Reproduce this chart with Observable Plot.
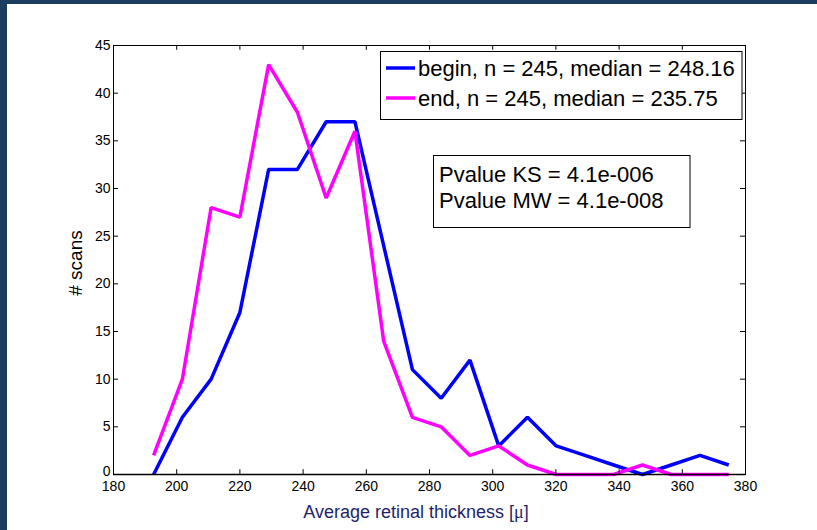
<!DOCTYPE html>
<html><head><meta charset="utf-8">
<script src="https://cdn.jsdelivr.net/npm/d3@7"></script>
<script src="https://cdn.jsdelivr.net/npm/@observablehq/plot@0.6"></script>
<style>
html,body{margin:0;padding:0;background:#fff;}
#wrap{position:relative;width:817px;height:530px;overflow:hidden;}
.band-top{position:absolute;left:0;top:0;width:817px;height:4px;background:#1b3b5f;}
.band-left{position:absolute;left:0;top:0;width:7px;height:530px;background:#1b3b5f;}
</style></head><body>
<div id="wrap"></div>
<script>
// Data
const binCenters = [192.7, 201.8, 210.9, 220.0, 229.1, 238.2, 247.3, 256.4, 265.5, 274.6, 283.7, 292.8, 301.9, 311.0, 320.1, 329.2, 338.3, 347.4, 356.5, 365.6, 374.7];
const beginCounts = [0, 6, 10, 17, 32, 32, 37, 37, 24, 11, 8, 12, 3, 6, 3, 2, 1, 0, 1, 2, 1];
const endCounts   = [2, 10, 28, 27, 43, 38, 29, 36, 14, 6, 5, 2, 3, 1, 0, 0, 0, 1, 0, 0, 0];
const xTicks = [180, 200, 220, 240, 260, 280, 300, 320, 340, 360, 380];
const yTicks = [0, 5, 10, 15, 20, 25, 30, 35, 40, 45];
const seriesNames = ["begin", "end"];
const seriesLabels = ["begin, n = 245, median = 248.16", "end, n = 245, median = 235.75"];
const seriesColors = ["#0000ff", "#ff00ff"];
const statLines = ["Pvalue KS = 4.1e-006", "Pvalue MW = 4.1e-008"];
const xLabelParts = ["Average retinal thickness [", "\u03bc", "]"];
const yLabel = "# scans";

const rows = [];
binCenters.forEach((x, i) => {
  rows.push({x, n: beginCounts[i], s: seriesNames[0]});
  rows.push({x, n: endCounts[i], s: seriesNames[1]});
});

const FONT = "'Liberation Sans', Arial, Helvetica, sans-serif";

const plot = Plot.plot({
  width: 817, height: 530,
  marginLeft: 113, marginRight: 72, marginTop: 45, marginBottom: 56,
  style: {background: "#fff", fontFamily: FONT, fontSize: "14px", color: "#000"},
  x: {domain: [180, 380]},
  y: {domain: [0, 45]},
  color: {domain: seriesNames, range: seriesColors},
  marks: [
    Plot.line(rows, {x: "x", y: "n", stroke: "s", z: "s", strokeWidth: 3.5, strokeLinejoin: "miter", strokeLinecap: "butt"}),
    Plot.frame({stroke: "#000", strokeWidth: 1}),
    Plot.ruleY([0], {stroke: "#000", strokeWidth: 1.6}),
    Plot.ruleX(xTicks, {y1: 0, y2: 0.5, stroke: "#000"}),
    Plot.ruleX(xTicks, {y1: 45, y2: 44.5, stroke: "#000"}),
    Plot.ruleY(yTicks, {x1: 180, x2: 181.6, stroke: "#000"}),
    Plot.ruleY(yTicks, {x1: 380, x2: 378.4, stroke: "#000"}),
    Plot.axisX({ticks: xTicks, tickSize: 0, tickPadding: 7, label: null, tickFormat: d => String(d)}),
    Plot.axisY({ticks: yTicks.filter(d => d !== 0), tickSize: 0, tickPadding: 3, label: null, tickFormat: d => String(d)}),
    Plot.axisY({ticks: yTicks.filter(d => d === 0), tickSize: 0, tickPadding: 3, dy: -3, label: null, tickFormat: d => String(d)})
  ]
});

const svg = d3.select(plot);

// Legend
const lg = svg.append("g").attr("font-family", FONT).attr("font-size", "22px").attr("text-anchor", "start");
lg.append("rect").attr("x", 380.5).attr("y", 51.5).attr("width", 361.5).attr("height", 68)
  .attr("fill", "#fff").attr("stroke", "#000").attr("stroke-width", 1);
seriesLabels.forEach((t, i) => {
  const cy = 68 + i * 30;
  lg.append("line").attr("x1", 386).attr("x2", 415).attr("y1", cy).attr("y2", cy)
    .attr("stroke", seriesColors[i]).attr("stroke-width", 3.5);
  lg.append("text").attr("x", 418).attr("y", cy + 8).attr("text-anchor", "start").attr("fill", "#000").text(t);
});

// Stats box
const sg = svg.append("g").attr("font-family", FONT).attr("font-size", "22px").attr("text-anchor", "start");
sg.append("rect").attr("x", 433.5).attr("y", 155.5).attr("width", 256.5).attr("height", 72)
  .attr("fill", "#fff").attr("stroke", "#000").attr("stroke-width", 1);
statLines.forEach((t, i) => {
  sg.append("text").attr("x", 439).attr("y", 182 + i * 26).attr("text-anchor", "start").attr("fill", "#000").text(t);
});

// X label
const xl = svg.append("text").attr("x", 416).attr("y", 518).attr("text-anchor", "middle")
  .attr("font-family", FONT).attr("font-size", "18px").attr("fill", "#1f1f6b");
xl.append("tspan").text(xLabelParts[0]);
xl.append("tspan").attr("font-family", "'Liberation Serif', 'DejaVu Serif', serif").text(xLabelParts[1]);
xl.append("tspan").text(xLabelParts[2]);

// Y label
svg.append("text").attr("transform", "translate(82,263) rotate(-90)").attr("text-anchor", "middle")
  .attr("font-family", FONT).attr("font-size", "19px").attr("fill", "#000").text(yLabel);

const wrap = document.getElementById("wrap");
wrap.appendChild(plot);
const b1 = document.createElement("div"); b1.className = "band-top"; wrap.appendChild(b1);
const b2 = document.createElement("div"); b2.className = "band-left"; wrap.appendChild(b2);
</script>
</body></html>
